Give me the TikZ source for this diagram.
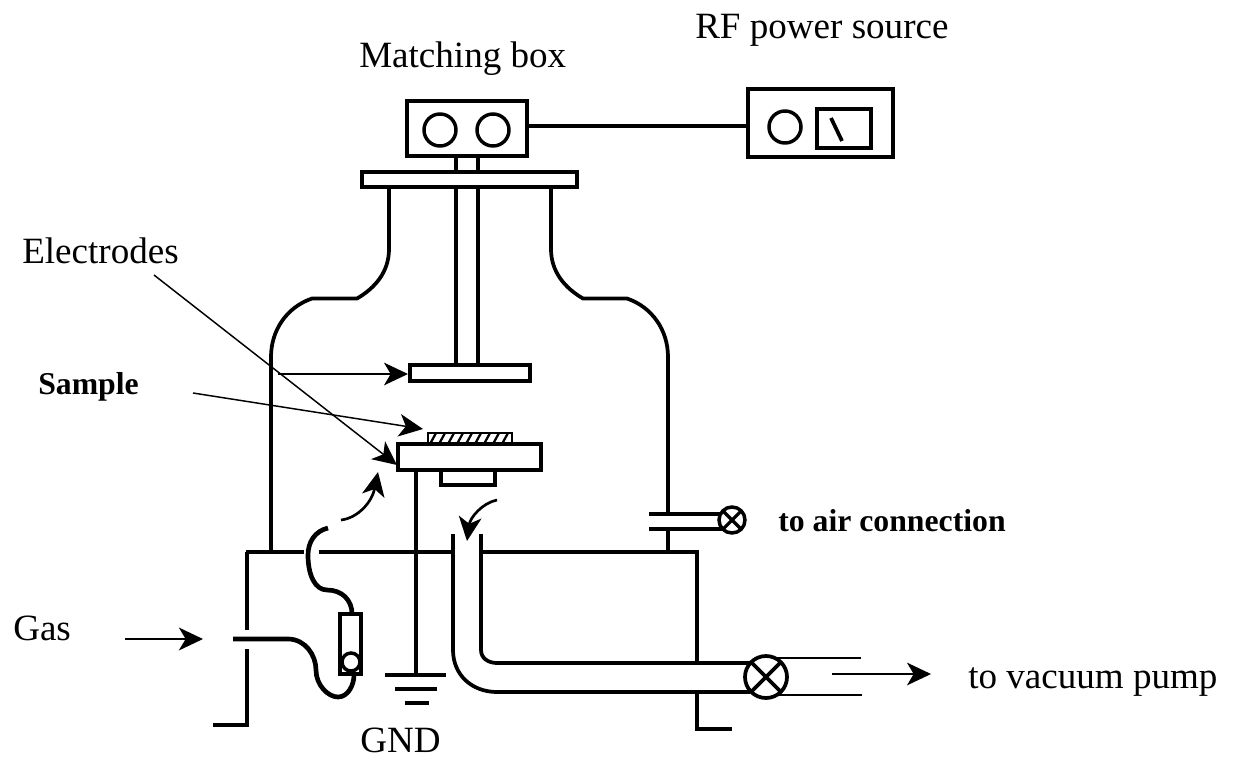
\documentclass[tikz,border=0pt]{standalone}
\usepackage{fontspec}
\setmainfont{Liberation Serif}
\usetikzlibrary{arrows.meta}
\tikzset{
  wall/.style={line width=2.8pt,line cap=butt,line join=miter},
  tube/.style={line width=3.5pt,line cap=butt,line join=round},
  boxp/.style n args={2}{draw,line width=2.8pt,fill=white,inner sep=0pt,outer sep=0pt,minimum width=#1*0.75pt,minimum height=#2*0.75pt},
  knob/.style={circle,draw,line width=2.6pt,fill=white,inner sep=0pt,outer sep=0pt,minimum size=#1*0.75pt},
  thin line/.style={line width=1.1pt},
  tip/.style={-{Stealth[length=18pt,width=17pt,inset=5pt]}},
  bigtext/.style={font=\fontsize{27.8pt}{30pt}\selectfont,anchor=base west,inner sep=0pt},
  boldtext/.style={font=\fontsize{23.8pt}{28pt}\selectfont\bfseries,anchor=base west,inner sep=0pt},
}
\begin{document}
\begin{tikzpicture}[x=0.75pt,y=-0.75pt]
\useasboundingbox (0,0) rectangle (1235,761);
% ---- labels
\node[bigtext] (rfl) at (695,38) {RF power source};
\node[bigtext] (mbl) at (359,67) {Matching box};
\node[bigtext] (ell) at (22,263) {Electrodes};
\node[boldtext] (sal) at (38,394) {Sample};
\node[boldtext] (ail) at (778,531) {to air connection};
\node[bigtext] (gal) at (13,640) {Gas};
\node[bigtext] (vpl) at (968,688) {to vacuum pump};
\node[bigtext] (gnl) at (360,752) {GND};
% ---- power section
\node[boxp={120}{55}] (match) at (467,128.5) {};
\node[knob=32] (k1) at (440,130) {};
\node[knob=32] (k2) at (493,130) {};
\node[boxp={145}{68}] (rf) at (820.5,123) {};
\node[knob=32] (k3) at (785,127) {};
\node[boxp={54}{39}] (meter) at (844,128.5) {};
\coordinate (n1) at (831,118); \coordinate (n2) at (842,141);
\draw[wall] (n1) -- (n2);
\draw[wall] (match.east |- 0,126) -- (rf.west |- 0,126);
% stem
\foreach \x/\n in {456/a,478/b}{
  \coordinate (s\n1) at (\x,156); \coordinate (s\n2) at (\x,365);
  \draw[wall] (s\n1) -- (s\n2);
}
\node[boxp={215}{15}] (flange) at (469.5,179.5) {};
% chamber
\coordinate (cl0) at (389,187); \coordinate (cl1) at (389,249);
\coordinate (cl2) at (357,298.5); \coordinate (cl3) at (312,298.5);
\coordinate (cl4) at (271,357); \coordinate (cl5) at (271,552);
\draw[wall] (cl0) -- (cl1) .. controls (389,272) and (375,288) .. (cl2) -- (cl3)
  .. controls (287,307) and (271,330) .. (cl4) -- (cl5);
\coordinate (cr0) at (551,187); \coordinate (cr1) at (551,249);
\coordinate (cr2) at (583,298.5); \coordinate (cr3) at (627,298.5);
\coordinate (cr4) at (668,357); \coordinate (cr5) at (668,514);
\coordinate (cr6) at (668,529); \coordinate (cr7) at (668,552);
\draw[wall] (cr0) -- (cr1) .. controls (551,272) and (565,288) .. (cr2) -- (cr3)
  .. controls (652,307) and (668,330) .. (cr4) -- (cr5);
\draw[wall] (cr6) -- (cr7);
% base plate
\coordinate (b0) at (245.7,552); \coordinate (b1) at (304,552);
\coordinate (b2) at (319,552); \coordinate (b3) at (451,552);
\coordinate (b4) at (483,552); \coordinate (b5) at (697,552);
\draw[wall] (b0) -- (b1); \draw[wall] (b2) -- (b3);
\draw[wall] (b4) -- (b5) -- (697,663);
\coordinate (w1) at (247,552); \coordinate (w2) at (247,630);
\coordinate (w3) at (247,649); \coordinate (w4) at (247,725);
\coordinate (w5) at (213,725);
\draw[wall] (w1) -- (w2);
\draw[wall] (w3) -- (w4) -- (w5);
\coordinate (r1) at (697,692); \coordinate (r2) at (697,729); \coordinate (r3) at (732,729);
\draw[wall] (r1) -- (r2) -- (r3);
% electrodes
\node[boxp={120}{16}] (top) at (470,373) {};
\node[boxp={84}{10}, line width=1.2pt] (sample) at (470,438) {};
\begin{scope}
  \clip (sample.south west) rectangle (sample.north east);
  \foreach \x in {430,439,...,512}
    \draw[line width=1.7pt] (\x,444) -- (\x+6,433);
\end{scope}
\node[boxp={143}{26}] (bottom) at (469.5,457) {};
\node[boxp={54}{15}] (holder) at (468,477.5) {};
% ground
\coordinate (g0) at (416,470); \coordinate (g1) at (416,675);
\draw[wall] (g0) -- (g1);
\coordinate (ga1) at (385,675); \coordinate (ga2) at (446,675);
\coordinate (gb1) at (395,689); \coordinate (gb2) at (437,689);
\coordinate (gc1) at (405,703); \coordinate (gc2) at (429,703);
\draw[wall] (ga1) -- (ga2);
\draw[wall] (gb1) -- (gb2);
\draw[wall] (gc1) -- (gc2);
% gas line
\node[boxp={21}{60}, fill=white] (gbox) at (350.5,644) {};
\coordinate (t0) at (233,639); \coordinate (t1) at (288,639);
\coordinate (t2) at (316,670); \coordinate (t3) at (338,697); \coordinate (t4) at (354,675);
\draw[tube] (t0) -- (t1) .. controls (305,639) and (316,655) .. (t2)
  .. controls (316,685) and (328,697) .. (t3) .. controls (348,697) and (354,685) .. (t4);
\coordinate (u0) at (328,528); \coordinate (u1) at (308,555); \coordinate (u2) at (327,590); \coordinate (u3) at (352,614);
\draw[tube] (u0) .. controls (315,531) and (308,542) .. (u1)
  .. controls (308,575) and (315,590) .. (u2) .. controls (342,590) and (352,600) .. (u3);
\node[knob=18] (gk) at (351,662) {};
% inlet arrow
\coordinate (ia0) at (341,520); \coordinate (ia1) at (378,472);
\draw[line width=2pt,tip] (ia0) .. controls (358,518) and (372,502) .. (ia1);
% pump tube
\coordinate (pl0) at (453,534); \coordinate (pl1) at (453,650); \coordinate (pl2) at (497,692); \coordinate (pl3) at (750,692);
\coordinate (pr0) at (481,534); \coordinate (pr1) at (481,650); \coordinate (pr2) at (497,663); \coordinate (pr3) at (750,663);
\draw[wall] (pl0) -- (pl1) .. controls (453,675) and (472,692) .. (pl2) -- (pl3);
\draw[wall] (pr0) -- (pr1) .. controls (481,658) and (488,663) .. (pr2) -- (pr3);
\coordinate (pa0) at (497,500); \coordinate (pa1) at (467,541);
\draw[line width=2pt,tip] (pa0) .. controls (482,503) and (470,518) .. (pa1);
% main valve
\coordinate (o1) at (770,658); \coordinate (o2) at (861,658);
\coordinate (o3) at (770,695); \coordinate (o4) at (862,695);
\draw[line width=2pt] (o1) -- (o2);
\draw[line width=2pt] (o3) -- (o4);
\node[knob=42,line width=2.8pt] (valve) at (766,677) {};
\draw[wall] (valve.north west) -- (valve.south east);
\draw[wall] (valve.north east) -- (valve.south west);
\coordinate (oa0) at (832,674); \coordinate (oa1) at (931,674);
\draw[thin line,tip] (oa0) -- (oa1);
% air valve
\coordinate (a1) at (649,514); \coordinate (a2) at (722,514);
\coordinate (a3) at (649,529); \coordinate (a4) at (722,529);
\draw[wall] (a1) -- (a2);
\draw[wall] (a3) -- (a4);
\node[knob=26] (avalve) at (732,520) {};
\draw[line width=2.4pt] (avalve.north west) -- (avalve.south east);
\draw[line width=2.4pt] (avalve.north east) -- (avalve.south west);
% gas arrow
\coordinate (ga0) at (125,639); \coordinate (ga9) at (203,639);
\draw[line width=2.2pt,tip] (ga0) -- (ga9);
% pointers
\coordinate (e0) at (154,275); \coordinate (e1) at (397,465);
\draw[thin line,tip] (e0) -- (e1);
\coordinate (e2) at (278,374); \coordinate (e3) at (408,374);
\draw[thin line,tip] (e2) -- (e3);
\coordinate (e4) at (193,393); \coordinate (e5) at (423,429);
\draw[thin line,tip] (e4) -- (e5);
\end{tikzpicture}
\end{document}
